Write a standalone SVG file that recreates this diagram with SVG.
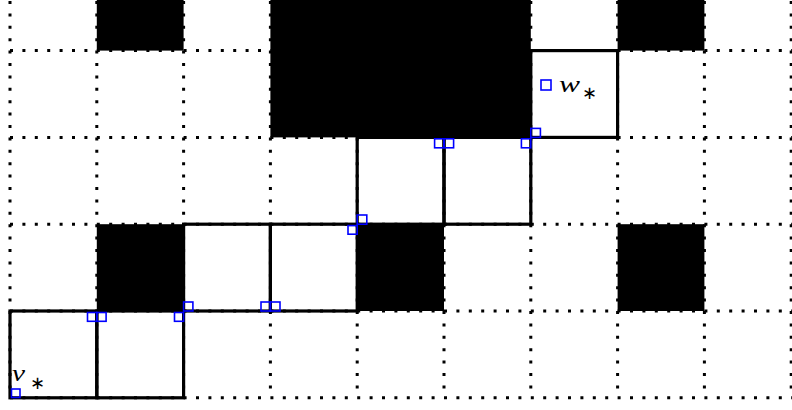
<svg xmlns="http://www.w3.org/2000/svg" width="792" height="410" viewBox="0 0 792 410">
<style>
.grid{stroke:#000;stroke-width:3;stroke-dasharray:3 9.4;fill:none}
.blk{fill:#000}
.cell{fill:none;stroke:#000;stroke-width:3.2}
.mk{fill:none;stroke:#0000ff;stroke-width:1.6}
.lbl{font-family:"Liberation Serif",serif;font-style:italic;font-size:23px;fill:#000}
.sub{font-family:"DejaVu Sans",sans-serif;font-size:18px;fill:#000}
</style>
<rect width="792" height="410" fill="#fff"/>
<g id="grid">
<path class="grid" d="M10 -36.2V397.8M96.8 -36.2V397.8M183.6 -36.2V397.8M270.4 -36.2V397.8M357.2 -36.2V397.8M444 -36.2V397.8M530.8 -36.2V397.8M617.6 -36.2V397.8M704.4 -36.2V397.8M791.2 -36.2V397.8"/>
<path class="grid" d="M10 50.6H800M10 137.4H800M10 224.2H800M10 311H800M10 397.8H800"/>
</g>
<g id="obstacles">
<rect class="blk" x="96.8" y="-40" width="86.8" height="90.6"/>
<rect class="blk" x="270.4" y="-40" width="260.4" height="177.4"/>
<rect class="blk" x="617.6" y="-40" width="86.8" height="90.6"/>
<rect class="blk" x="96.8" y="224.2" width="86.8" height="86.8"/>
<rect class="blk" x="357.2" y="224.2" width="86.8" height="86.8"/>
<rect class="blk" x="617.6" y="224.2" width="86.8" height="86.8"/>
</g>
<g id="path-cells">
<rect class="cell" x="10" y="311" width="86.8" height="86.8"/>
<rect class="cell" x="96.8" y="311" width="86.8" height="86.8"/>
<rect class="cell" x="183.6" y="224.2" width="86.8" height="86.8"/>
<rect class="cell" x="270.4" y="224.2" width="86.8" height="86.8"/>
<rect class="cell" x="357.2" y="137.4" width="86.8" height="86.8"/>
<rect class="cell" x="444" y="137.4" width="86.8" height="86.8"/>
<rect class="cell" x="530.8" y="50.6" width="86.8" height="86.8"/>
</g>
<g id="marks">
<rect class="mk" x="11.5" y="389" width="8.5" height="8.5"/>
<rect class="mk" x="87.5" y="312.5" width="9.3" height="8.8"/>
<rect class="mk" x="96.8" y="312.5" width="9.3" height="8.8"/>
<rect class="mk" x="174.5" y="312.5" width="9.1" height="8.8"/>
<rect class="mk" x="183.6" y="302" width="9.3" height="9"/>
<rect class="mk" x="261" y="302" width="9.4" height="9"/>
<rect class="mk" x="270.4" y="302" width="9.6" height="9"/>
<rect class="mk" x="348" y="225.6" width="9.2" height="8.6"/>
<rect class="mk" x="357.2" y="215" width="9.6" height="9.2"/>
<rect class="mk" x="434.6" y="138.8" width="9.4" height="9"/>
<rect class="mk" x="444" y="138.8" width="9.6" height="9"/>
<rect class="mk" x="521.4" y="138.8" width="9.4" height="9"/>
<rect class="mk" x="530.8" y="128.4" width="9.6" height="9"/>
<rect class="mk" x="541" y="80" width="10" height="10"/>
</g>
<g id="labels">
<text class="lbl" x="12" y="381" textLength="13" lengthAdjust="spacingAndGlyphs">v</text>
<text class="sub" x="30" y="389">∗</text>
<text class="lbl" x="559" y="92" textLength="21" lengthAdjust="spacingAndGlyphs">w</text>
<text class="sub" x="582" y="99">∗</text>
</g>
</svg>
